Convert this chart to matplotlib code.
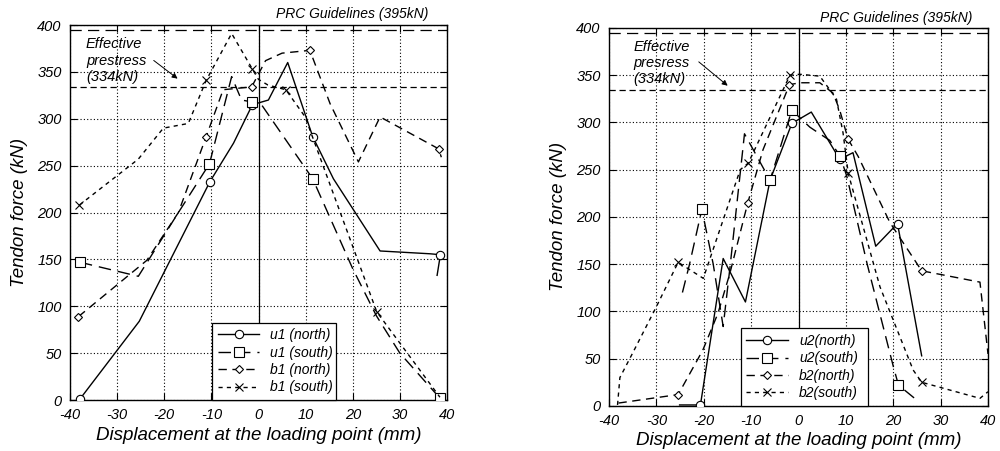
import matplotlib
matplotlib.use("Agg")
import matplotlib.pyplot as plt

plt.rcParams["font.family"] = ["Liberation Sans", "DejaVu Sans"]
plt.rcParams["font.style"] = "italic"
plt.rcParams["axes.unicode_minus"] = False

# ---- left panel: u1 / b1 ----
u1n_x = [-37.9, -25.3, -10.3, -5.3, -1.3, 2.1, 6.2, 11.5, 15.9, 25.8, 36.4, 38.6, 37.9]
u1n_y = [1, 84, 233, 274, 315, 320, 360, 281, 236, 159, 156, 155, 133]
u1s_x = [-37.9, -25.5, -17, -10.4, -5.7, -3.6, -1.4, 0.5, 11.5, 20, 25, 30, 38.5]
u1s_y = [147, 132, 200, 252, 345, 320, 318, 316, 236, 140, 90, 50, 2]
b1n_x = [-38.2, -23.7, -17, -11.1, -7.5, -1.45, 1.5, 5, 10.9, 15.2, 21.2, 25.8, 38.2, 38.8]
b1n_y = [89, 149, 200, 281, 331, 334, 362, 370, 373, 316, 254, 302, 268, 259]
b1s_x = [-38, -25.5, -20.2, -14.9, -11.1, -5.7, -1.3, 0, 2, 5.8, 9.9, 25.1, 38.5]
b1s_y = [208, 257, 290, 295, 341, 391, 353, 342, 336, 331, 302, 94, 3]

# ---- right panel: u2 / b2 ----
u2n_x = [-25.1, -20.7, -15.9, -11.2, -6, -1.4, 2.7, 8.7, 11.5, 16.3, 20.9, 26]
u2n_y = [1, 1, 156, 110, 239, 299, 311, 261, 268, 169, 193, 53]
u2s_x = [-24.5, -23, -20.4, -18, -15.9, -14.5, -11.4, -6.8, -6, -1.4, 2.4, 6.6, 8.8, 10.2, 14.5, 20, 21.1, 25]
u2s_y = [120, 150, 208, 150, 84, 145, 288, 246, 239, 313, 295, 281, 264, 243, 150, 42, 22, 6]
b2n_x = [-38, -25.4, -20.2, -17, -14.5, -10.7, -7.5, -1.9, 0.3, 4.5, 7.3, 8.7, 10.5, 12.6, 19.3, 26, 38.3, 40]
b2n_y = [3, 12, 59, 98, 140, 215, 271, 340, 342, 342, 331, 313, 282, 264, 194, 143, 131, 55]
b2s_x = [-38.2, -37.7, -35, -30, -25.4, -20.1, -12.3, -10.6, -1.8, 0.25, 4.5, 8, 9.4, 10.5, 17.2, 24.2, 26, 38.3, 40]
b2s_y = [1, 30, 56, 105, 152, 135, 250, 257, 350, 351, 349, 325, 289, 246, 126, 38, 25, 8, 15]

prc = 395
eff = 334
xticks = list(range(-40, 41, 10))
yticks = list(range(0, 401, 50))

fig = plt.figure(figsize=(10, 4.51), dpi=100)
ax1 = fig.add_axes([0.070, 0.113, 0.377, 0.8315])
ax2 = fig.add_axes([0.609, 0.100, 0.379, 0.838])


def setup(ax):
    ax.set_xlim(-40, 40)
    ax.set_ylim(0, 400)
    ax.set_xticks(xticks)
    ax.set_yticks(yticks)
    ax.grid(True, color="black", linestyle=(0, (1, 2)), linewidth=0.8)
    ax.tick_params(direction="in", top=True, right=True, length=5, labelsize=10.5, pad=6)
    for s in ax.spines.values():
        s.set_linewidth(1.0)
    ax.axvline(0, color="black", lw=0.9, zorder=1)
    ax.axhline(prc, color="black", lw=0.9, dashes=(9, 5))
    ax.axhline(eff, color="black", lw=0.9, dashes=(5, 3))
    ax.set_xlabel("Displacement at the loading point (mm)", fontsize=13.5, labelpad=3)
    ax.set_ylabel("Tendon force (kN)", fontsize=13.5, labelpad=7)


def series(ax, x, y, mk, style, idx, label, ms=6):
    kw = dict(color="black", lw=1.0, marker=mk, markevery=idx, markersize=ms,
              markerfacecolor="white", markeredgewidth=0.8, label=label, zorder=3)
    if style is not None:
        kw["dashes"] = style
    ax.plot(x, y, **kw)


def legend(ax, box):
    leg = ax.legend(loc="lower left", bbox_to_anchor=box, mode="expand",
                    borderaxespad=0, fontsize=10, handlelength=3,
                    fancybox=False, edgecolor="black", framealpha=1,
                    labelspacing=0.25, borderpad=0.4)
    leg.get_frame().set_linewidth(0.9)
    leg.set_zorder(5)


setup(ax1)
series(ax1, u1n_x, u1n_y, "o", None, [0, 2, 4, 7, 11], "u1 (north)")
series(ax1, u1s_x, u1s_y, "s", (9, 5), [0, 3, 6, 8, 12], "u1 (south)", 6.5)
series(ax1, b1n_x, b1n_y, "D", (6, 4), [0, 3, 5, 8, 12], "b1 (north)", 4.5)
series(ax1, b1s_x, b1s_y, "x", (3, 3), [0, 4, 6, 9, 11], "b1 (south)")
ax1.text(0.95, 1.029, "PRC Guidelines (395kN)", transform=ax1.transAxes,
         ha="right", va="center", fontsize=10)
ax1.text(-36.6, 362, "Effective\nprestress\n(334kN)", ha="left", va="center",
         fontsize=10.5, linespacing=1.2)
ax1.annotate("", xy=(-16.7, 341), xytext=(-22.7, 364),
             arrowprops=dict(arrowstyle="-|>", color="black", lw=0.7, mutation_scale=8))
legend(ax1, (0.377, 0.0, 0.329, 0.213))

setup(ax2)
series(ax2, u2n_x, u2n_y, "o", None, [1, 5, 7, 10], "u2(north)")
series(ax2, u2s_x, u2s_y, "s", (9, 5), [2, 8, 9, 12, 16], "u2(south)", 6.5)
series(ax2, b2n_x, b2n_y, "D", (6, 4), [1, 5, 7, 12, 15], "b2(north)", 4.5)
series(ax2, b2s_x, b2s_y, "x", (3, 3), [4, 7, 8, 13, 16], "b2(south)")
ax2.text(0.96, 1.026, "PRC Guidelines (395kN)", transform=ax2.transAxes,
         ha="right", va="center", fontsize=10)
ax2.text(-34.9, 363, "Effective\npresress\n(334kN)", ha="left", va="center",
         fontsize=10.5, linespacing=1.2)
ax2.annotate("", xy=(-14.5, 337), xytext=(-21.5, 366),
             arrowprops=dict(arrowstyle="-|>", color="black", lw=0.7, mutation_scale=8))
legend(ax2, (0.348, 0.0, 0.335, 0.201))

fig.savefig("out.png", dpi=100)
